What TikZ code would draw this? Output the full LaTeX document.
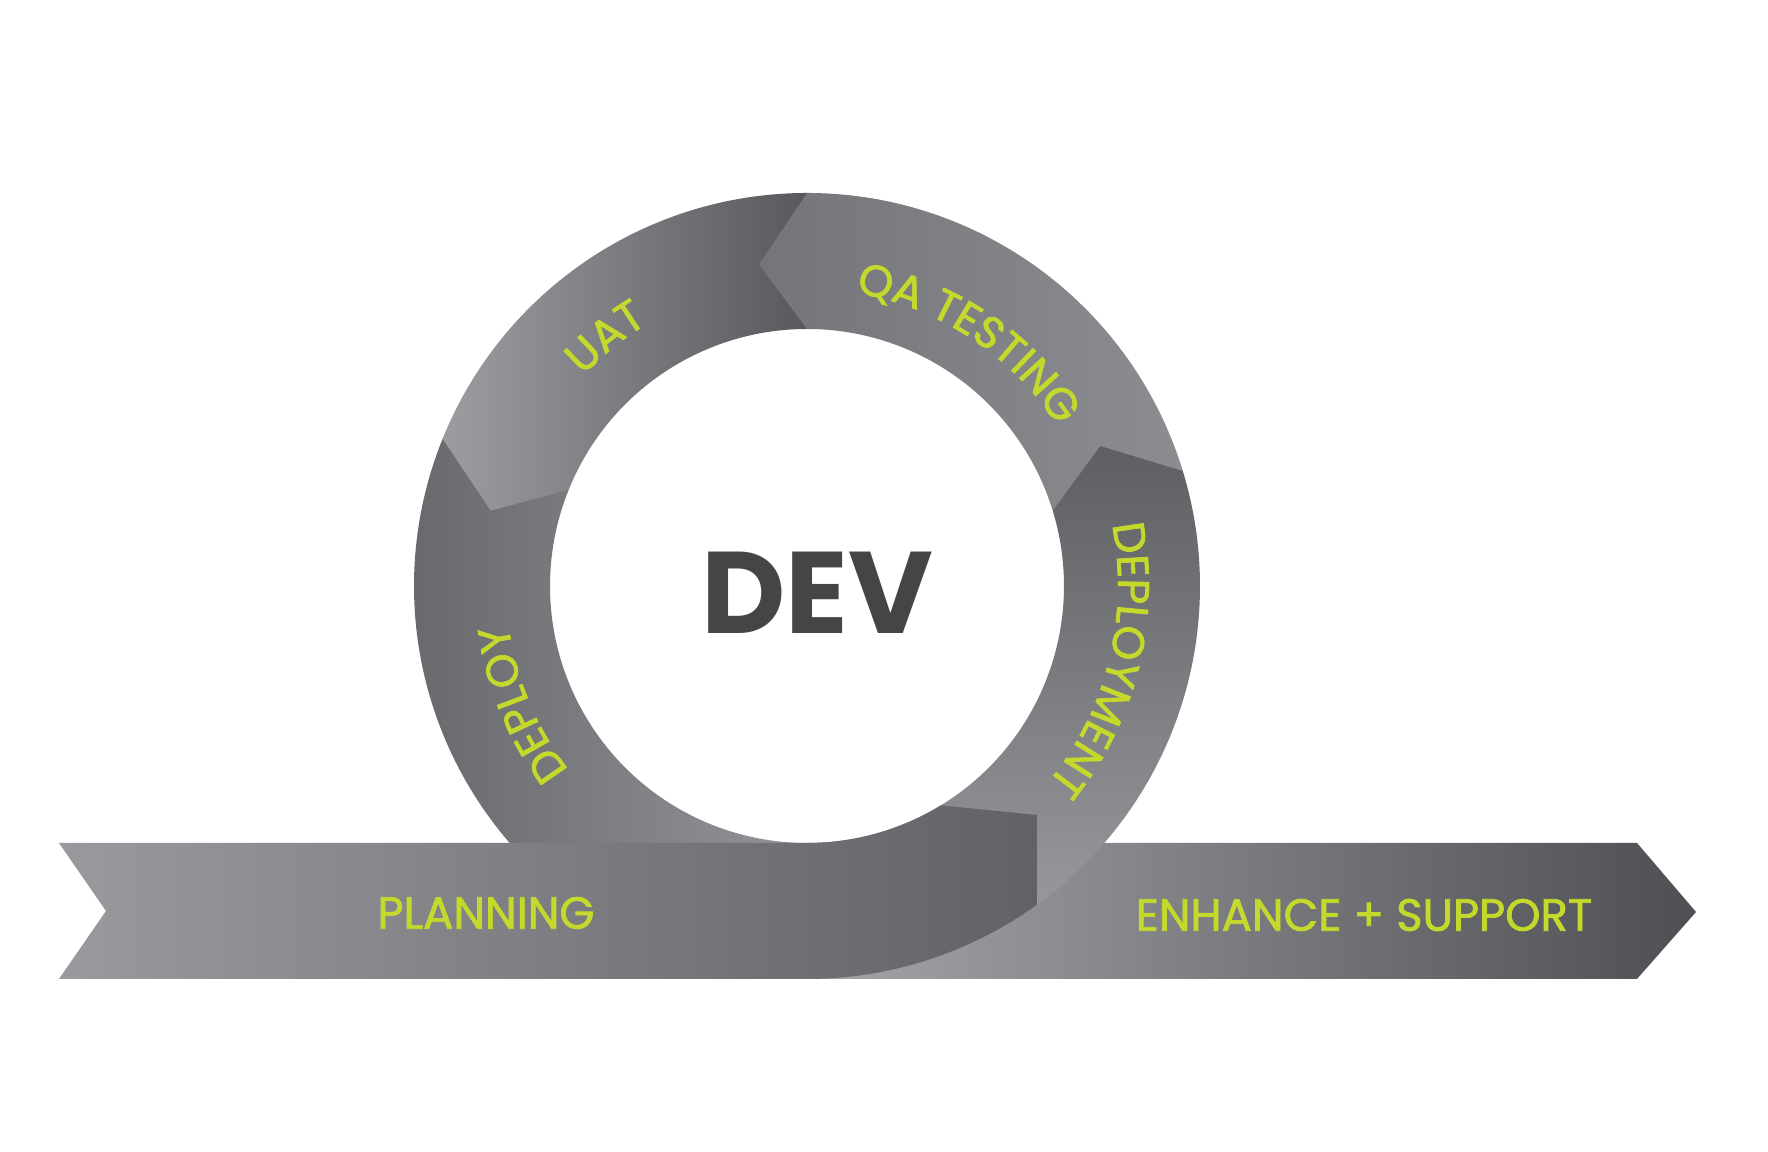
\documentclass[tikz,border=0pt]{standalone}
\usepackage{fontspec}
\setmainfont{Poppins}
\newfontfamily\lblfont[FakeBold=1.6]{Poppins}
\usetikzlibrary{calc,decorations.text}
\definecolor{lime}{RGB}{197,217,44}
\definecolor{devgray}{RGB}{69,69,71}
\tikzset{
    band/.style={draw=none},
    seg/.style={draw=none},
    lbl/.style={text=lime, inner sep=0pt, font=\lblfont\fontsize{12.8}{15}\selectfont},
    arclbl/.style={decorate, decoration={text along path, text align=center,
        text={|\lblfont\fontsize{12.6}{15}\selectfont\color{lime}|#1}}},
}

\begin{document}
\begin{tikzpicture}[x=0.01cm, y=0.01cm]
    \useasboundingbox[fill=white] (0,0) rectangle (1768,1152);
    \coordinate (C) at (807,566);

    % enhance band (behind the loop)
    \shade[band, left color={rgb,255:red,164;green,165;blue,169}, middle color={rgb,255:red,119;green,120;blue,124}, right color={rgb,255:red,78;green,79;blue,82}]
        (807,309) -- (1637,309) -- (1696,240) -- (1637,173) -- (807,173) -- cycle;

    % ring segments
    \shade[seg, left color={rgb,255:red,102;green,103;blue,106}, right color={rgb,255:red,147;green,148;blue,152}]
        ($(C)+(158:393)$) arc[start angle=158, end angle=270, radius=393]
        -- ($(C)+(270:257)$) arc[start angle=270, end angle=158, radius=257] -- cycle;
    \shade[seg, left color={rgb,255:red,156;green,157;blue,161}, right color={rgb,255:red,88;green,89;blue,92}]
        ($(C)+(90:393)$) arc[start angle=90, end angle=158, radius=393]
        -- ($(C)+(166.6:325)$) -- ($(C)+(158:257)$)
        arc[start angle=158, end angle=90, radius=257] -- cycle;
    \shade[seg, left color={rgb,255:red,116;green,117;blue,121}, right color={rgb,255:red,140;green,141;blue,145}]
        ($(C)+(17:393)$) arc[start angle=17, end angle=90, radius=393]
        -- ($(C)+(98.5:325)$) -- ($(C)+(90:257)$)
        arc[start angle=90, end angle=17, radius=257] -- cycle;
    \shade[seg, top color={rgb,255:red,94;green,95;blue,98}, bottom color={rgb,255:red,160;green,161;blue,165}]
        ($(C)+(-90:393)$) arc[start angle=-90, end angle=17, radius=393]
        -- ($(C)+(25.5:325)$) -- ($(C)+(17:257)$)
        arc[start angle=17, end angle=-90, radius=257] -- cycle;

    % planning band, curling into the loop
    \shade[band, left color={rgb,255:red,153;green,154;blue,158}, right color={rgb,255:red,97;green,98;blue,101}]
        (59,309) -- (807,309) arc[start angle=-90, end angle=-58.6, radius=257]
        -- (1037,337) -- ($(C)+(-54.2:393)$) arc[start angle=-54.2, end angle=-90, radius=393]
        -- (59,173) -- (106,241) -- cycle;

    % labels
    \path[arclbl=UAT] ($(C)+(169:307)$) arc[start angle=169, end angle=89, radius=307];
    \path[arclbl=QA TESTING] ($(C)+(100:297)$) arc[start angle=100, end angle=13, radius=297];
    \path[arclbl=DEPLOYMENT] ($(C)+(30:311)$) arc[start angle=30, end angle=-58, radius=311];
    \path[arclbl=DEPLOY] ($(C)+(245:301)$) arc[start angle=245, end angle=160, radius=301];

    \node[lbl] (plan) at (486,239) {PLANNING};
    \node[lbl] (enh) at (1364,237) {ENHANCE + SUPPORT};
    \node[inner sep=0pt, text=devgray, font=\bfseries\fontsize{33}{37}\selectfont] (dev) at (817,559) {DEV};
\end{tikzpicture}
\end{document}
